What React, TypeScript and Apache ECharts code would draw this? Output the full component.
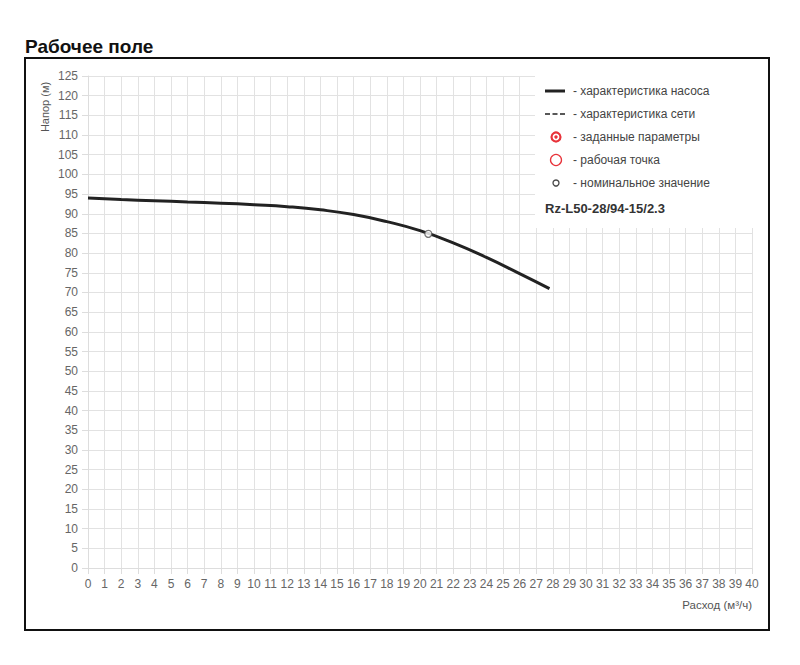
import React, { useEffect, useRef } from "react";
import * as echarts from "echarts";

const flow = [0, 2, 4, 6, 8, 10, 12, 14, 16, 18, 20, 22, 24, 26, 27.8];
const head = [94.0, 93.6, 93.3, 93.0, 92.7, 92.3, 91.8, 91.0, 89.8, 88.0, 85.7, 82.6, 78.9, 74.8, 71.0];
const nominalFlow = [20.5];
const nominalHead = [84.9];
const legendLabels = [
  "- характеристика насоса",
  "- характеристика сети",
  "- заданные параметры",
  "- рабочая точка",
  "- номинальное значение",
];
const modelName = "Rz-L50-28/94-15/2.3";
const title = "Рабочее поле";
const yName = "Напор (м)";
const xName = "Расход (м³/ч)";

const FONT = "'Liberation Sans', Arial, sans-serif";

export default function App() {
  const ref = useRef<HTMLDivElement>(null);
  useEffect(() => {
    if (!ref.current) return;
    const chart = echarts.init(ref.current, undefined, { renderer: "svg" });
    const lx = 545;
    const rows = [91, 114, 137, 160, 183];
    const textX = 573;
    const legendGraphics: any[] = [
      { type: "rect", shape: { x: 535, y: 68, width: 232, height: 160 }, style: { fill: "#fff" }, z: 10 },
      { type: "line", shape: { x1: lx, y1: rows[0], x2: lx + 20, y2: rows[0] }, style: { stroke: "#222", lineWidth: 3 }, z: 11 },
      { type: "line", shape: { x1: lx, y1: rows[1], x2: lx + 20, y2: rows[1] }, style: { stroke: "#222", lineWidth: 1.6, lineDash: [5, 2.5] }, z: 11 },
      { type: "circle", shape: { cx: 556, cy: rows[2], r: 4.5 }, style: { fill: "none", stroke: "#e8333a", lineWidth: 2.2 }, z: 11 },
      { type: "circle", shape: { cx: 556, cy: rows[2], r: 1.7 }, style: { fill: "#e8333a" }, z: 11 },
      { type: "circle", shape: { cx: 556, cy: rows[3], r: 5.5 }, style: { fill: "none", stroke: "#e8333a", lineWidth: 1.3 }, z: 11 },
      { type: "circle", shape: { cx: 556, cy: rows[4], r: 3 }, style: { fill: "none", stroke: "#444", lineWidth: 1.3 }, z: 11 },
      ...legendLabels.map((t, i) => ({
        type: "text",
        x: textX,
        y: rows[i],
        z: 11,
        style: { text: t, font: `12px ${FONT}`, fill: "#444", textVerticalAlign: "middle", textAlign: "left" },
      })),
      {
        type: "text",
        x: 545,
        y: 208,
        z: 11,
        style: { text: modelName, font: `bold 13px ${FONT}`, fill: "#333", textVerticalAlign: "middle" },
      },
    ];
    chart.setOption({
      animation: false,
      backgroundColor: "#fff",
      grid: { left: 88, right: 48, top: 76, bottom: 97 },
      xAxis: {
        type: "value",
        min: 0,
        max: 40,
        interval: 1,
        axisLine: { show: true, lineStyle: { color: "#ddd" } },
        axisTick: { show: true, length: 6, lineStyle: { color: "#ddd" } },
        splitLine: { show: true, lineStyle: { color: "#e2e2e2" } },
        axisLabel: { color: "#666", fontSize: 12, fontFamily: FONT, margin: 10 },
      },
      yAxis: {
        type: "value",
        min: 0,
        max: 125,
        interval: 5,
        axisLine: { show: true, lineStyle: { color: "#ddd" } },
        axisTick: { show: true, length: 6, lineStyle: { color: "#ddd" } },
        splitLine: { show: true, lineStyle: { color: "#e2e2e2" } },
        axisLabel: { color: "#666", fontSize: 12, fontFamily: FONT, margin: 10 },
      },
      series: [
        {
          type: "line",
          data: flow.map((f, i) => [f, head[i]]),
          smooth: 0.5,
          showSymbol: false,
          lineStyle: { color: "#222", width: 3 },
          z: 3,
        },
        {
          type: "scatter",
          data: nominalFlow.map((f, i) => [f, nominalHead[i]]),
          symbol: "circle",
          symbolSize: 7,
          itemStyle: { color: "#fff", borderColor: "#555", borderWidth: 1.3 },
          z: 4,
        },
      ],
      graphic: [
        { type: "text", x: 25, y: 46, style: { text: title, font: `bold 19px ${FONT}`, fill: "#111", textVerticalAlign: "middle" } },
        { type: "rect", shape: { x: 25, y: 58, width: 744, height: 572 }, style: { fill: "none", stroke: "#111", lineWidth: 2 }, z: 20 },
        {
          type: "text",
          x: 45,
          y: 107,
          rotation: Math.PI / 2,
          style: { text: yName, font: `11px ${FONT}`, fill: "#555", textAlign: "center", textVerticalAlign: "middle" },
        },
        {
          type: "text",
          x: 752,
          y: 605,
          style: { text: xName, font: `11.5px ${FONT}`, fill: "#555", textAlign: "right", textVerticalAlign: "middle" },
        },
        ...legendGraphics,
      ],
    });
    return () => chart.dispose();
  }, []);
  return (
    <div
      ref={ref}
      style={{ position: "fixed", left: 0, top: 0, width: 800, height: 665, background: "#fff" }}
    />
  );
}
